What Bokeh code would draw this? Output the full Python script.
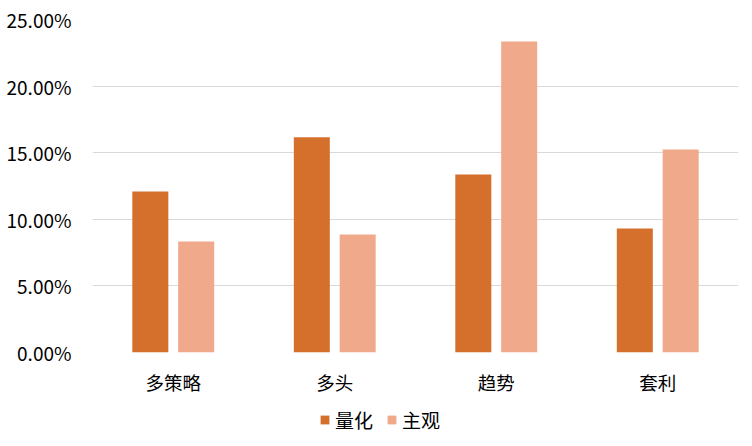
from bokeh.plotting import figure
from bokeh.layouts import column
from bokeh.models import (ColumnDataSource, Range1d, FactorRange, FixedTicker,
                          NumeralTickFormatter, Legend, LegendItem)
from bokeh.transform import dodge
from bokeh.embed import file_html
from bokeh.resources import INLINE

categories = ["多策略", "多头", "趋势", "套利"]
series_names = ["量化", "主观"]
quant = [0.1209, 0.1616, 0.1336, 0.0931]
subj = [0.0833, 0.0886, 0.2335, 0.1524]
y_ticks = [0.0, 0.05, 0.10, 0.15, 0.20, 0.25]

colors = ["#D4702C", "#F0A98A"]
FONT = "Noto Sans CJK SC"

src = ColumnDataSource(dict(cat=categories, quant=quant, subj=subj))

p = figure(width=752, height=400, x_range=FactorRange(*categories),
           y_range=Range1d(0, 0.25), output_backend="svg", toolbar_location=None,
           min_border_left=92, min_border_right=14, min_border_top=19,
           min_border_bottom=48)
p.outline_line_color = None
p.background_fill_color = "white"
p.border_fill_color = "white"

r1 = p.vbar(x=dodge("cat", -0.142, range=p.x_range), top="quant", width=0.223,
            source=src, fill_color=colors[0], line_color=None)
r2 = p.vbar(x=dodge("cat", 0.142, range=p.x_range), top="subj", width=0.223,
            source=src, fill_color=colors[1], line_color=None)

p.yaxis.ticker = FixedTicker(ticks=y_ticks)
p.yaxis.formatter = NumeralTickFormatter(format="0.00%")
for ax in (p.xaxis[0], p.yaxis[0]):
    ax.axis_line_color = None
    ax.major_tick_line_color = None
    ax.minor_tick_line_color = None
    ax.major_label_text_font = FONT
    ax.major_label_text_color = "#000000"
p.yaxis.major_label_text_font_size = "19px"
p.yaxis.major_label_standoff = 15
p.xaxis.major_label_text_font_size = "18.5px"
p.xaxis.major_label_standoff = 10

p.xgrid.grid_line_color = None
p.ygrid.grid_line_color = "#d9d9d9"
p.ygrid.grid_line_width = 1

# legend figure (carries its own copies of the series, out of view)
lf = figure(width=752, height=46, x_range=FactorRange(*categories),
            y_range=Range1d(10, 11), output_backend="svg", toolbar_location=None,
            x_axis_type=None, y_axis_type=None,
            min_border_left=0, min_border_right=0, min_border_top=0,
            min_border_bottom=0)
lf.outline_line_color = None
lf.xgrid.grid_line_color = None
lf.ygrid.grid_line_color = None
l1 = lf.vbar(x="cat", top="quant", width=0.2, source=src,
             fill_color=colors[0], line_color=None)
l2 = lf.vbar(x="cat", top="subj", width=0.2, source=src,
             fill_color=colors[1], line_color=None)

legend = Legend(items=[LegendItem(label=series_names[0], renderers=[l1]),
                       LegendItem(label=series_names[1], renderers=[l2])],
                orientation="horizontal", location=(227, 13))
legend.label_text_font = FONT
legend.label_text_font_size = "19px"
legend.label_text_color = "#000000"
legend.label_height = 20
legend.glyph_width = 11
legend.glyph_height = 11
legend.label_standoff = 5
legend.spacing = 13
legend.padding = 0
legend.margin = 0
legend.border_line_color = None
legend.background_fill_alpha = 0
lf.add_layout(legend)

layout = column(p, lf, spacing=0)
open("out.html", "w").write(file_html(layout, INLINE))
